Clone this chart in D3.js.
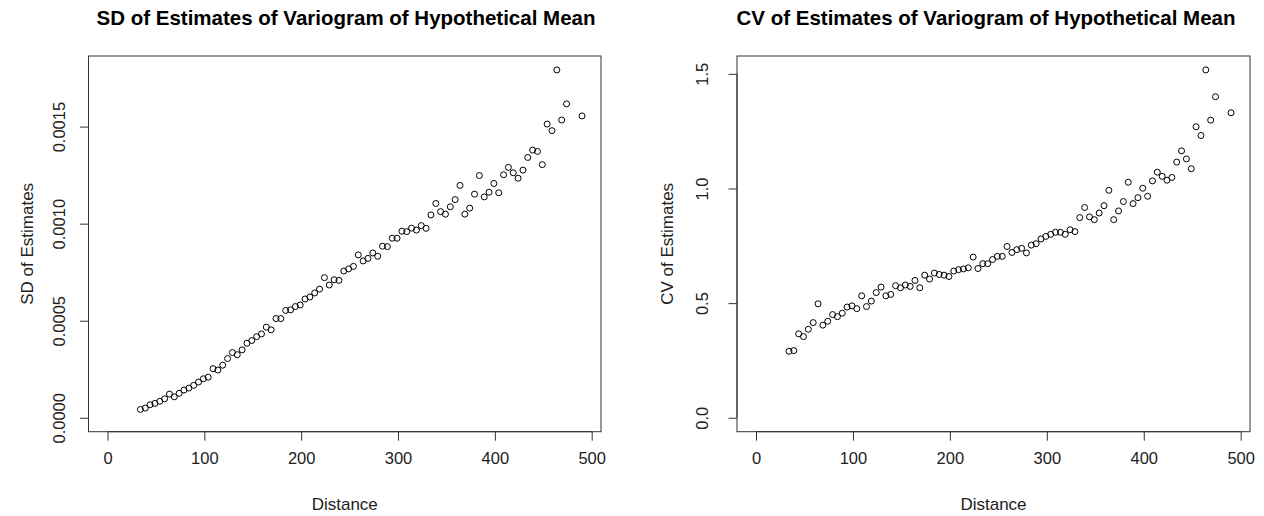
<!DOCTYPE html>
<html>
<head>
<meta charset="utf-8">
<script src="https://cdn.jsdelivr.net/npm/d3@7"></script>
<style>
  body { margin: 0; background: #fff; }
  svg { display: block; font-family: "Liberation Sans", Arial, sans-serif; }
</style>
</head>
<body>
<svg id="chart" width="1264" height="516"></svg>
<script>
// distance bins (same for both panels)
var distance = [34, 39, 44, 49, 54, 59, 64, 69, 74, 79, 84, 89, 94, 99, 104, 109, 114, 119, 124, 129,
  134, 139, 144, 149, 154, 159, 164, 169, 174, 179, 184, 189, 194, 199, 204, 209, 214, 219, 224, 229,
  234, 239, 244, 249, 254, 259, 264, 269, 274, 279, 284, 289, 294, 299, 304, 309, 314, 319, 324, 329,
  334, 339, 344, 349, 354, 359, 364, 369, 374, 379, 384, 389, 394, 399, 404, 409, 414, 419, 424, 429,
  434, 439, 444, 449, 454, 459, 464, 469, 474, 490];

var sdEstimates = [0.000043, 0.000050, 0.000067, 0.000074, 0.000085, 0.000098, 0.000122, 0.000108, 0.000126, 0.000143,
  0.000153, 0.000167, 0.000184, 0.000201, 0.000209, 0.000253, 0.000246, 0.000271, 0.000305, 0.000336,
  0.000325, 0.000350, 0.000384, 0.000398, 0.000418, 0.000432, 0.000467, 0.000453, 0.000511, 0.000511,
  0.000553, 0.000556, 0.000573, 0.000581, 0.000612, 0.000622, 0.000643, 0.000663, 0.000722, 0.000684,
  0.000711, 0.000708, 0.000756, 0.000767, 0.000780, 0.000839, 0.000808, 0.000821, 0.000849, 0.000832,
  0.000884, 0.000882, 0.000925, 0.000925, 0.000961, 0.000959, 0.000977, 0.000967, 0.000990, 0.000976,
  0.001045, 0.001104, 0.001062, 0.001049, 0.001087, 0.001124, 0.001197, 0.001049, 0.001080, 0.001152,
  0.001248, 0.001138, 0.001162, 0.001207, 0.001159, 0.001252, 0.001290, 0.001262, 0.001234, 0.001276,
  0.001341, 0.001379, 0.001372, 0.001304, 0.001513, 0.001479, 0.001792, 0.001534, 0.001617, 0.001555];

var cvEstimates = [0.290, 0.293, 0.366, 0.354, 0.386, 0.415, 0.497, 0.404, 0.421, 0.450,
  0.441, 0.456, 0.483, 0.488, 0.476, 0.532, 0.485, 0.509, 0.546, 0.570,
  0.532, 0.538, 0.576, 0.567, 0.579, 0.573, 0.599, 0.567, 0.622, 0.605,
  0.631, 0.625, 0.622, 0.616, 0.640, 0.646, 0.649, 0.654, 0.701, 0.651,
  0.672, 0.672, 0.690, 0.704, 0.704, 0.747, 0.721, 0.733, 0.739, 0.719,
  0.753, 0.759, 0.780, 0.791, 0.800, 0.809, 0.809, 0.800, 0.820, 0.812,
  0.873, 0.917, 0.876, 0.864, 0.893, 0.925, 0.992, 0.864, 0.902, 0.943,
  1.027, 0.934, 0.960, 1.001, 0.966, 1.033, 1.071, 1.053, 1.036, 1.048,
  1.115, 1.164, 1.129, 1.086, 1.269, 1.231, 1.517, 1.298, 1.400, 1.330];

var xTicks = [0, 100, 200, 300, 400, 500];
var sdTicks = [0, 0.0005, 0.0010, 0.0015];
var sdTickLabels = ["0.0000", "0.0005", "0.0010", "0.0015"];
var cvTicks = [0, 0.5, 1.0, 1.5];
var cvTickLabels = ["0.0", "0.5", "1.0", "1.5"];

var svg = d3.select("#chart");

// pad an extent by 4% each side, the way base R plots do
function padded(lo, hi) {
  var d = (hi - lo) * 0.04;
  return [lo - d, hi + d];
}

function panel(opt) {
  var g = svg.append("g");
  var x = d3.scaleLinear()
    .domain(padded(0, d3.max(distance)))
    .range([opt.left, opt.right]);
  var y = d3.scaleLinear()
    .domain(padded(0, d3.max(opt.values)))
    .range([opt.bottom, opt.top]);

  g.append("rect")
    .attr("x", opt.left).attr("y", opt.top)
    .attr("width", opt.right - opt.left).attr("height", opt.bottom - opt.top)
    .attr("fill", "none").attr("stroke", "#333").attr("stroke-width", 1);

  // x axis
  var xa = g.append("g").attr("transform", "translate(0," + opt.bottom + ")")
    .call(d3.axisBottom(x).tickValues(xTicks).tickSizeInner(9).tickSizeOuter(0).tickPadding(12));
  xa.select(".domain").attr("d", "M" + x(0) + ",0H" + x(500)).attr("stroke", "#333");
  xa.selectAll(".tick line").attr("stroke", "#333");
  xa.selectAll("text").attr("font-size", 16.5).attr("fill", "#222");

  // y axis, labels rotated as in base R
  var ya = g.append("g").attr("transform", "translate(" + opt.left + ",0)")
    .call(d3.axisLeft(y).tickValues(opt.ticks).tickSizeInner(8.5).tickSizeOuter(0)
      .tickFormat(function(d, i) { return opt.tickLabels[i]; }));
  ya.select(".domain").attr("d", "M0," + y(opt.ticks[0]) + "V" + y(opt.ticks[opt.ticks.length - 1])).attr("stroke", "#333");
  ya.selectAll(".tick line").attr("stroke", "#333");
  ya.selectAll("text")
    .attr("font-size", 16.5).attr("fill", "#222")
    .attr("text-anchor", "middle").attr("dy", null).attr("x", null)
    .attr("transform", "translate(" + (opt.tickX - opt.left) + ",0) rotate(-90)")
    .attr("dominant-baseline", "central");

  g.selectAll("circle.pt")
    .data(distance)
    .enter().append("circle")
    .attr("class", "pt")
    .attr("cx", function(d) { return x(d); })
    .attr("cy", function(d, i) { return y(opt.values[i]); })
    .attr("r", 3)
    .attr("fill", "none")
    .attr("stroke", "#000")
    .attr("stroke-width", 1);

  g.append("text")
    .attr("x", opt.titleX).attr("y", 17)
    .attr("text-anchor", "middle").attr("dominant-baseline", "central")
    .attr("font-size", 20.5).attr("font-weight", "bold").attr("fill", "#000")
    .text(opt.title);

  g.append("text")
    .attr("x", (opt.left + opt.right) / 2).attr("y", 504)
    .attr("text-anchor", "middle").attr("dominant-baseline", "central")
    .attr("font-size", 17).attr("fill", "#222")
    .text("Distance");

  g.append("text")
    .attr("transform", "translate(" + opt.labelX + "," + (opt.top + opt.bottom) / 2 + ") rotate(-90)")
    .attr("text-anchor", "middle").attr("dominant-baseline", "central")
    .attr("font-size", 17).attr("fill", "#222")
    .text(opt.yLabel);
}

panel({
  left: 88.5, right: 601, top: 56, bottom: 431.7,
  values: sdEstimates, ticks: sdTicks, tickLabels: sdTickLabels,
  tickX: 59, labelX: 27,
  title: "SD of Estimates of Variogram of Hypothetical Mean", titleX: 346,
  yLabel: "SD of Estimates"
});

panel({
  left: 737, right: 1250, top: 56, bottom: 431.7,
  values: cvEstimates, ticks: cvTicks, tickLabels: cvTickLabels,
  tickX: 702, labelX: 667,
  title: "CV of Estimates of Variogram of Hypothetical Mean", titleX: 986,
  yLabel: "CV of Estimates"
});
</script>
</body>
</html>
